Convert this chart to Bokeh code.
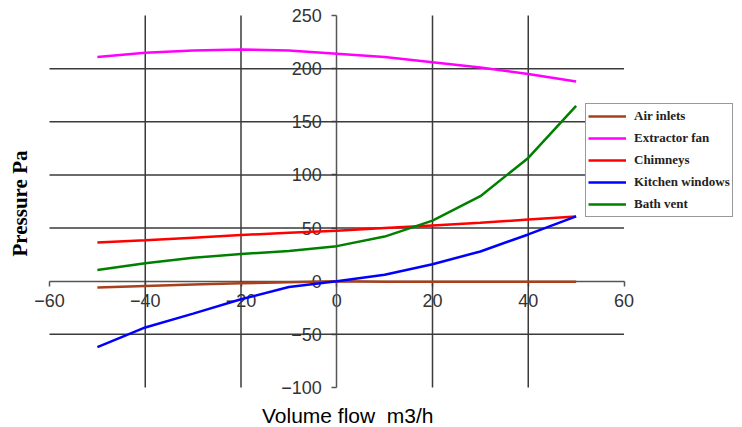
from math import pi
from bokeh.plotting import figure
from bokeh.models import (Range1d, LinearAxis, FixedTicker, Legend, LegendItem, Label)
from bokeh.embed import file_html
from bokeh.resources import INLINE

# ---- data ----
flow = [-50, -40, -30, -20, -10, 0, 10, 20, 30, 40, 50]
air_inlets = [-6, -4.5, -3, -2, -1, 0, -0.5, -0.5, -0.5, -0.5, -0.5]
extractor_fan = [211, 215, 217, 218, 217, 214, 211, 206, 201, 195, 188]
chimneys = [36.5, 38.5, 41, 43.5, 45.5, 47.5, 50, 52.5, 55, 58, 61]
kitchen_windows = [-62, -43.5, -30.5, -17, -5.5, 0, 6, 16, 28, 44, 61]
bath_vent = [10.5, 17, 22, 25.5, 28.5, 33, 42, 57, 80, 116, 165]

series_names = ["Air inlets", "Extractor fan", "Chimneys", "Kitchen windows", "Bath vent"]
series_values = [air_inlets, extractor_fan, chimneys, kitchen_windows, bath_vent]
series_colors = ["#A8401C", "#FF00FF", "#FF0000", "#0000FF", "#008000"]

x_ticks = [-60, -40, -20, 0, 20, 40, 60]
y_ticks = [-100, -50, 0, 50, 100, 150, 200, 250]
x_grid = [-40, -20, 20, 40]
y_grid = [-50, 50, 100, 150, 200]
x_lim = (-60, 60)
y_lim = (-100, 250)

# frame covers the whole canvas; ranges padded so the chart area sits where the reference has it
W, H = 742, 427
left_px, right_px, top_px, bottom_px = 49, 118.5, 15, 40
sx = (W - left_px - right_px) / (x_lim[1] - x_lim[0])
sy = (H - top_px - bottom_px) / (y_lim[1] - y_lim[0])
x_range = Range1d(x_lim[0] - left_px / sx, x_lim[1] + right_px / sx)
y_range = Range1d(y_lim[0] - bottom_px / sy, y_lim[1] + top_px / sy)

p = figure(width=W, height=H, output_backend="svg", toolbar_location=None,
           x_range=x_range, y_range=y_range,
           x_axis_location=None, y_axis_location=None,
           min_border=0)
p.outline_line_color = None
p.background_fill_color = "white"
p.grid.visible = False

# grid lines limited to the chart area
p.segment(x0=x_grid, y0=[y_lim[0]] * len(x_grid), x1=x_grid, y1=[y_lim[1]] * len(x_grid),
          line_color="#3a3a3a", line_width=1.5)
p.segment(x0=[x_lim[0]] * len(y_grid), y0=y_grid, x1=[x_lim[1]] * len(y_grid), y1=y_grid,
          line_color="#3a3a3a", line_width=1.5)

common = dict(axis_line_color="#555555", axis_line_width=1.5,
              major_tick_line_color="#555555", major_tick_line_width=1.5,
              major_tick_in=0, major_tick_out=5, minor_tick_line_color=None,
              major_label_text_font="Liberation Sans", major_label_text_font_size="18px",
              major_label_text_color="#333333", fixed_location=0)
xaxis = LinearAxis(ticker=FixedTicker(ticks=x_ticks), bounds=x_lim, major_label_standoff=8, **common)
yaxis = LinearAxis(ticker=FixedTicker(ticks=y_ticks), bounds=y_lim, major_label_standoff=10, **common)
xaxis.level = "underlay"
yaxis.level = "underlay"
p.add_layout(xaxis, "below")
p.add_layout(yaxis, "left")

items = []
for name, vals, col in zip(series_names, series_values, series_colors):
    r = p.line(flow, vals, line_color=col, line_width=2.5)
    items.append(LegendItem(label=name, renderers=[r]))

legend = Legend(items=items, location=(585, 210), margin=0, padding=2, spacing=2,
                glyph_width=38, glyph_height=20, label_height=20, label_standoff=8,
                label_text_font="Liberation Serif", label_text_font_style="bold",
                label_text_font_size="13px", label_text_color="#222222",
                border_line_color="#333333", border_line_width=1.5,
                background_fill_color="white", background_fill_alpha=1.0)
p.add_layout(legend, "center")

p.add_layout(Label(x=2.3, y=-126.5, text="Volume flow \u00a0m3/h", text_align="center",
                   text_baseline="alphabetic", text_font="Liberation Sans",
                   text_font_size="21px", text_color="black"))
p.add_layout(Label(x=-66.2, y=73.1, text="Pressure Pa", angle=pi / 2, text_align="center",
                   text_baseline="middle", text_font="Liberation Serif", text_font_style="bold",
                   text_font_size="21px", text_color="black"))

open("out.html", "w").write(file_html(p, INLINE))
